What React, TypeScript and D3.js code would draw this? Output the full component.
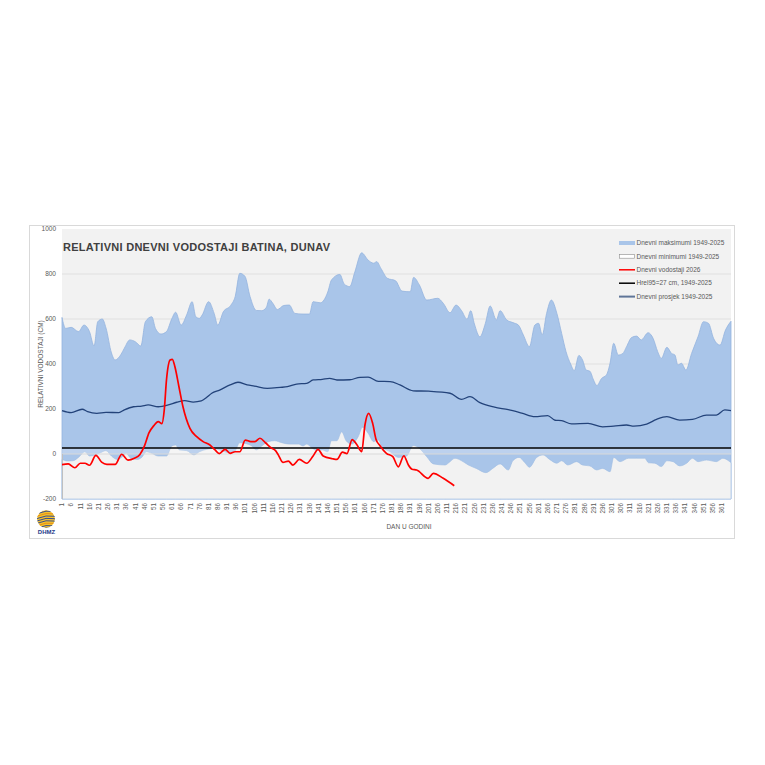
import React from "react";
import * as d3 from "d3";

// [day of year, relative level in cm]
const MAX_1949_2025: [number, number][] = [
  [1, 607], [3, 558], [6, 563], [10, 544], [13, 573], [16, 544], [18.5, 480], [20.5, 588], [23, 600],
  [25, 560], [28, 449], [30, 418], [33, 440], [35, 470], [38, 507], [41, 499], [44, 480], [46.5, 588],
  [50, 610], [52, 558], [55, 533], [58, 544], [61, 603], [63, 630], [66, 573], [69, 618], [72, 677],
  [74, 610], [76, 603], [77.5, 618], [81, 677], [84, 625], [86, 573], [89, 632], [93, 660], [95.5, 700],
  [98, 803], [100.8, 790], [103.6, 700], [107, 638], [110, 637], [112.5, 652], [114, 688], [116, 670],
  [118.5, 642], [122, 660], [125, 662], [128, 625], [132.5, 622], [136, 622], [138, 677], [142, 672],
  [146, 720], [148, 773], [152.6, 798], [155, 755], [158, 744], [160.8, 810], [164.5, 894], [168, 862],
  [171, 848], [172.7, 855], [175, 825], [178.5, 781], [183, 770], [186.5, 724], [191, 721], [192.8, 785],
  [196, 751], [200, 684], [206, 692], [209, 670], [212.7, 628], [216, 662], [219, 637], [222, 599],
  [224, 637], [226, 578], [229, 521], [232, 581], [234.6, 658], [238, 596], [240, 637], [243.6, 596],
  [247, 584], [250, 573], [252.7, 529], [256, 477], [259, 573], [261, 581], [263, 529], [265.4, 625],
  [268, 684], [271, 625], [273.6, 536], [276, 455], [278.5, 400], [280.5, 371], [283, 438], [285, 418],
  [287, 373], [289, 368], [291, 329], [292.8, 304], [295.4, 336], [298, 351], [300, 403], [302, 492],
  [304.5, 440], [307, 447], [309, 477], [311.8, 518], [314.5, 524], [317, 507], [320.8, 539],
  [323.5, 514], [326, 455], [328, 425], [331, 474], [333.6, 447], [335.4, 440], [337, 396], [339, 403],
  [341.4, 373], [344.5, 447], [348, 521], [351, 588], [353.7, 581], [356.5, 514], [360, 484],
  [363, 551], [366, 590],
];

const MIN_1949_2025: [number, number][] = [
  [1, -24], [4, -31], [7, -30], [10, -15], [13.5, 10], [16, -9], [19, -4], [22, 6], [25, 15], [28, -9],
  [31, -24], [34, -12], [36, 3], [38.5, -19], [42, -24], [44.5, -15], [47, 10], [50, 3], [53.5, -9],
  [58, -9], [61, 36], [63, 40], [65, 18], [69, 15], [73, -4], [76, 10], [80, 21], [83.5, 25], [87, 18],
  [92, 6], [95, 10], [98, 50], [101, 47], [104.5, 36], [107, 18], [110, 36], [113.5, 55], [117, 59],
  [121, 50], [125, 44], [130, 44], [132.5, 36], [134.5, 44], [137, 30], [140, 15], [143, 18], [146, 10],
  [148, 59], [151, 59], [153.6, 99], [156, 59], [159, 44], [162.6, 77], [165, 119], [168, 92], [171, 55],
  [173.6, 62], [175.5, 33], [180, 10], [184.5, -15], [189, -9], [192.6, 38], [196, 25], [200, -12],
  [203.6, -44], [210, -49], [212.7, -34], [215.4, -19], [219, -30], [222.7, -49], [227, -64],
  [232.3, -83], [236, -64], [240, -44], [244.5, -71], [247, -30], [250.4, -15], [253.6, -39], [256, -59],
  [260, -15], [263.5, -4], [267, -24], [271, -41], [273.6, -30], [277, -49], [281.8, -34], [285, -49],
  [289, -53], [292.7, -71], [296, -64], [300, -79], [302, -15], [305.5, -34], [310, -19], [314.5, -19],
  [319, -19], [321, -39], [324.5, -41], [328, -56], [331, -30], [334.4, -34], [338, -53], [341.8, -41],
  [345, -19], [348, -34], [352.6, -27], [358, -34], [361.6, -19], [366, -39],
];

const MEAN_1949_2025: [number, number][] = [
  [1, 193], [6, 184], [12, 199], [15, 188], [20, 181], [25, 185], [32, 184], [35, 196], [40, 210],
  [44.5, 213], [48, 218], [53.5, 210], [59, 218], [63.6, 230], [68, 237], [72.6, 231], [77, 236],
  [80, 252], [82.7, 270], [87, 284], [92.7, 307], [97, 319], [102, 307], [106, 302], [113, 292],
  [120, 296], [124, 299], [129, 311], [134.5, 314], [138, 329], [143, 332], [147, 336], [151, 329],
  [158, 330], [163.6, 341], [168, 342], [173.6, 323], [180, 322], [185.4, 307], [192.6, 281], [201, 279],
  [212.7, 270], [219, 243], [223.6, 255], [229, 228], [237, 208], [244.5, 197], [251.8, 182], [259, 166],
  [266, 171], [270, 150], [273.6, 148], [279, 134], [288, 136], [296, 121], [302, 124], [309, 129],
  [313, 124], [320, 133], [325.4, 154], [331, 166], [338, 151], [345, 154], [352.6, 173], [358, 173],
  [362.6, 196], [366, 193],
];

const LEVEL_2026: [number, number][] = [
  [1, -47], [4.4, -44], [8, -61], [11, -41], [13.5, -41], [16, -50], [19.5, -6], [22.6, -36], [25.5, -46],
  [30, -46], [33.6, -1], [37, -27], [40.5, -19], [43.5, -2], [46, 36], [48.5, 95], [51, 125], [53.5, 144],
  [55.5, 135], [56.8, 196], [58, 329], [60, 418], [61.2, 421], [62.6, 388], [64.8, 299], [67, 210],
  [70.8, 114], [74.5, 77], [78, 55], [81.7, 40], [84.5, 18], [86.8, 2], [90, 21], [92.7, 3], [95.4, 10],
  [98, 10], [101, 62], [104, 55], [106.3, 55], [109, 70], [112, 50], [115, 28], [117.5, 15], [119, -4],
  [121.5, -37], [124.5, -32], [127, -49], [130.5, -24], [134.5, -41], [138, -9], [140.7, 21], [143.5, -9],
  [148.5, -21], [151, -24], [154, 8], [156.5, 2], [159.3, 64], [161.8, 42], [164.5, 10], [166.3, 130],
  [168.3, 181], [170.5, 136], [172.3, 66], [174.5, 37], [178, 3], [181.5, -12], [184.5, -57],
  [187.5, -8], [190, -49], [192, -68], [194.5, -71], [200.8, -108], [203.6, -86], [209, -108], [215, -141],
];

const HREL95 = 27;
const Y_TICKS = [-200, 0, 200, 400, 600, 800, 1000];
const GRID_LINES = [200, 400, 600, 800];
const X_TICKS = d3.range(1, 366, 5);

const TITLE = "RELATIVNI DNEVNI VODOSTAJI BATINA, DUNAV";
const Y_TITLE = "RELATIVNI VODOSTAJI (CM)";
const X_TITLE = "DAN U GODINI";
const LEGEND = [
  { label: "Dnevni maksimumi 1949-2025", kind: "max" },
  { label: "Dnevni minimumi 1949-2025", kind: "min" },
  { label: "Dnevni vodostaji 2026", kind: "red" },
  { label: "Hrel95=27 cm, 1949-2025", kind: "hrel" },
  { label: "Dnevni prosjek 1949-2025", kind: "mean" },
];

const FONT = "'Liberation Sans', Arial, sans-serif";
const TXT = "#595959";
const BLUE = "#a9c5e9";
const NAVY = "#23437a";
const PLOT_BG = "#f2f2f2";

const P = { left: 62, right: 731, top: 229, bottom: 499 };

export default function App() {
  const x = d3.scaleLinear().domain([1, 366]).range([P.left, P.right]);
  const y = d3.scaleLinear().domain([-200, 1000]).range([P.bottom, P.top]);

  const area = d3.area<[number, number]>()
    .x(d => x(d[0]))
    .y0(y(-200))
    .y1(d => y(d[1]))
    .curve(d3.curveMonotoneX);
  const line = d3.line<[number, number]>()
    .x(d => x(d[0]))
    .y(d => y(d[1]))
    .curve(d3.curveMonotoneX);

  const legY = (i: number) => 243 + i * 13.4;

  // logo stripes
  const stripes = d3.range(-14, 16, 2.4);

  return (
    <div style={{ position: "absolute", left: 0, top: 0 }}>
      <svg width={765} height={765} style={{ display: "block", background: "#fff" }}>
        <rect x={29.5} y={225.5} width={705} height={313} fill="#fff" stroke="#d9d9d9" strokeWidth={1} />

        {/* plot area */}
        <rect x={P.left} y={P.top} width={P.right - P.left} height={P.bottom - P.top} fill={PLOT_BG} />
        {GRID_LINES.map(v => (
          <line key={v} x1={P.left} x2={P.right} y1={y(v)} y2={y(v)} stroke="#dcdcdc" strokeWidth={0.8} />
        ))}

        <path d={area(MAX_1949_2025) ?? ""} fill={BLUE} stroke="#94b4de" strokeWidth={0.8} />
        <path d={area(MIN_1949_2025) ?? ""} fill={PLOT_BG} stroke="#9dbce3" strokeWidth={0.6} />
        <rect x={P.left} y={y(HREL95)} width={P.right - P.left} height={y(0) - y(HREL95)} fill="#fff" opacity={0.22} />
        <line x1={P.left} x2={P.right} y1={y(0)} y2={y(0)} stroke="#d9d9d9" strokeWidth={1} />
        <line x1={P.left + 0.5} x2={P.left + 0.5} y1={y(0)} y2={P.bottom} stroke="#bfbfbf" strokeWidth={1} />

        <line x1={P.left} x2={P.right} y1={y(HREL95)} y2={y(HREL95)} stroke="#000" strokeWidth={1.5} />
        <path d={line(MEAN_1949_2025) ?? ""} fill="none" stroke={NAVY} strokeWidth={1.3} strokeLinejoin="round" />
        <path d={line(LEVEL_2026) ?? ""} fill="none" stroke="#ff0000" strokeWidth={1.7} strokeLinejoin="round" />

        {/* title */}
        <text x={63} y={251} fontFamily={FONT} fontWeight="bold" fontSize={11} fill="#404040"
          textLength={267} lengthAdjust="spacing">{TITLE}</text>

        {/* y axis */}
        {Y_TICKS.map(v => (
          <text key={v} x={56} y={y(v) + 2.2} textAnchor="end" fontFamily={FONT} fontSize={6.5} fill={TXT}>{v}</text>
        ))}
        <text transform={`translate(42.5,${(P.top + P.bottom) / 2}) rotate(-90)`} textAnchor="middle"
          fontFamily={FONT} fontSize={6.5} fill={TXT}>{Y_TITLE}</text>

        {/* x axis */}
        {X_TICKS.map(d => (
          <text key={d} transform={`translate(${x(d) + 2.2},503) rotate(-90)`} textAnchor="end"
            fontFamily={FONT} fontSize={6.3} fill={TXT}>{d}</text>
        ))}
        <text x={409} y={529} textAnchor="middle" fontFamily={FONT} fontSize={6.5} fill={TXT}>{X_TITLE}</text>

        {/* legend */}
        {LEGEND.map((l, i) => {
          const cy = legY(i);
          let sw: React.ReactNode = null;
          if (l.kind === "max") sw = <rect x={619} y={cy - 2} width={16} height={4} fill={BLUE} />;
          else if (l.kind === "min") sw = <rect x={619.5} y={cy - 1.8} width={15} height={3.6} fill="#fff" stroke="#8c8c8c" strokeWidth={0.6} />;
          else if (l.kind === "red") sw = <line x1={619} x2={635} y1={cy} y2={cy} stroke="#ff0000" strokeWidth={1.5} />;
          else if (l.kind === "hrel") sw = <line x1={619} x2={635} y1={cy} y2={cy} stroke="#000" strokeWidth={1.5} />;
          else sw = <line x1={619} x2={635} y1={cy} y2={cy} stroke="#5f7598" strokeWidth={2} />;
          return (
            <g key={l.label}>
              {sw}
              <text x={636.5} y={cy + 2.2} fontFamily={FONT} fontSize={6.5} fill={TXT}>{l.label}</text>
            </g>
          );
        })}

        {/* DHMZ logo */}
        <defs>
          <clipPath id="logoClip">
            <circle cx={46} cy={519} r={9} />
          </clipPath>
        </defs>
        <g clipPath="url(#logoClip)">
          <circle cx={46} cy={519} r={9} fill="#f2c230" />
          {stripes.map((s, i) => (
            <path key={i} d={`M30,${519 + s + 6} Q46,${519 + s - 6} 62,${519 + s + 2}`}
              fill="none" stroke={i % 4 === 0 ? "#e88a10" : "#24409a"} strokeWidth={0.9} />
          ))}
        </g>
        <text x={46.5} y={533.5} textAnchor="middle" fontFamily={FONT} fontWeight="bold" fontSize={6} fill="#1d3a8a">DHMZ</text>
      </svg>
    </div>
  );
}
